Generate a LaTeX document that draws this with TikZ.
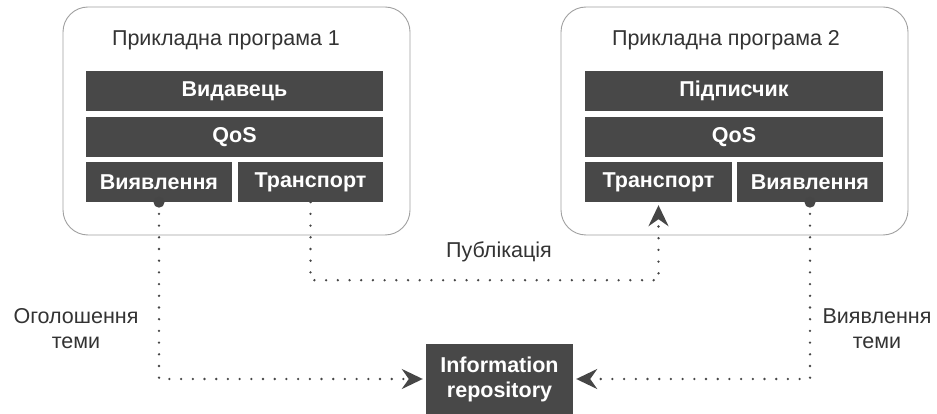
\documentclass[tikz,border=0pt]{standalone}
\usepackage{fontspec}
\setmainfont{Liberation Sans}
\usetikzlibrary{arrows.meta}
\definecolor{bar}{RGB}{72,72,72}
\definecolor{txt}{RGB}{51,51,51}
\definecolor{frame}{RGB}{160,160,160}
\definecolor{dotc}{RGB}{70,70,70}
\tikzset{
  container/.style={draw=frame, line width=0.9pt, rounded corners=25pt, fill=white, inner sep=0pt},
  barbox/.style={fill=bar, text=white, font=\fontsize{21.5}{25}\selectfont\bfseries, inner sep=0pt, minimum height=40pt},
  ttl/.style={text=txt, font=\fontsize{21.5}{25}\selectfont},
  lbl/.style={text=txt, font=\fontsize{21.5}{25}\selectfont, align=center},
  dotline/.style={draw=dotc, line width=2.6pt, line cap=round, dash pattern=on 0pt off 11.7pt},
  tipend/.style={-{Stealth[length=21pt,width=20pt,inset=7pt]}, shorten >=3pt},
  startdot/.style={fill=dotc, circle, inner sep=0pt, minimum size=11pt}
}
\begin{document}
\begin{tikzpicture}[x=1pt,y=-1pt]
\useasboundingbox (0,0) rectangle (937,414);
% containers
\node[container, minimum width=347pt, minimum height=228pt] (c1) at (236.5,121) {};
\node[container, minimum width=347pt, minimum height=228pt] (c2) at (734.5,121) {};
\node[ttl] (t1) at (226,40) {Прикладна програма 1};
\node[ttl] (t2) at (726,40) {Прикладна програма 2};
% left stack
\node[barbox, minimum width=297pt] (pub) at (234.5,91) {Видавець};
\node[barbox, minimum width=297pt] (qos1) at (234.5,137) {QoS};
\node[barbox, minimum width=146pt] (d1) at (159,182) {Виявлення};
\node[barbox, minimum width=145pt] (tr1) at (310.5,182) {Транспорт};
% right stack
\node[barbox, minimum width=298pt] (sub) at (734,91) {Підписчик};
\node[barbox, minimum width=298pt] (qos2) at (734,137) {QoS};
\node[barbox, minimum width=147pt] (tr2) at (658.5,182) {Транспорт};
\node[barbox, minimum width=146pt] (d2) at (810,182) {Виявлення};
% repository
\node[barbox, minimum width=147pt, minimum height=70pt, align=center, font=\fontsize{21.5}{25}\selectfont\bfseries] (repo) at (499.5,379) {Information\\repository};
% connectors
\draw[dotline, tipend] (d1.south) |- (repo.west);
\draw[dotline, tipend] (d2.south) |- (repo.east);
\draw[dotline, tipend] (tr1.south) -- ++(0,78) -| (tr2.south);
\node[startdot] (s1) at (d1.south) {};
\node[startdot] (s2) at (d2.south) {};
% labels
\node[lbl] (lp) at (499,252) {Публікація};
\node[lbl] (la) at (76,329) {Оголошення\\теми};
\node[lbl] (ld) at (877,329) {Виявлення\\теми};
\end{tikzpicture}
\end{document}
